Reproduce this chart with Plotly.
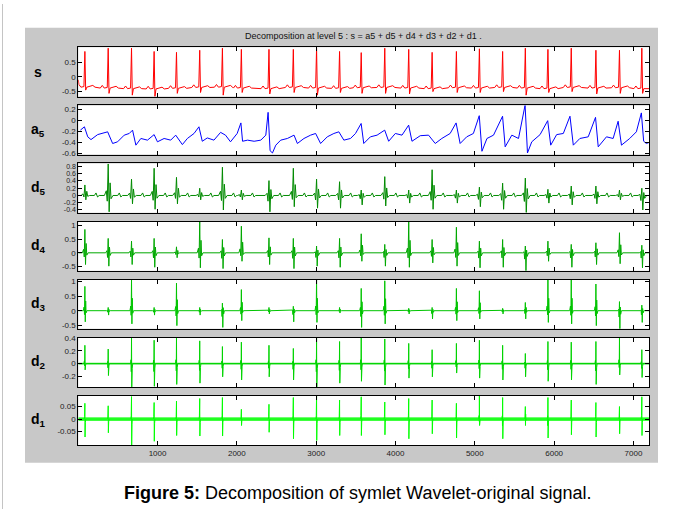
import plotly.graph_objects as go

# ---------------- data ----------------
N_SAMPLES = 7200
beats = [84, 378, 672, 957, 1239, 1532, 1818, 2057, 2405, 2712, 3005, 3295, 3568,
         3865, 4167, 4462, 4768, 5058, 5351, 5637, 5922, 6216, 6527, 6824, 7106]

s_start = -0.10
s_peak = [0.86, 0.97, 0.97, 0.86, 0.83, 0.90, 0.97, 0.93, 0.93, 0.93, 0.97, 0.86, 0.82,
          0.97, 0.93, 0.83, 0.86, 0.95, 0.86, 0.97, 0.93, 0.97, 0.90, 0.90, 0.97]
s_trough = [-0.45, -0.56, -0.62, -0.67, -0.56, -0.53, -0.62, -0.53, -0.58, -0.53, -0.62, -0.53, -0.56,
            -0.56, -0.58, -0.50, -0.53, -0.53, -0.50, -0.62, -0.53, -0.50, -0.58, -0.56, -0.56]
s_base = [-0.35, -0.38, -0.40, -0.41, -0.39, -0.36, -0.35, -0.38, -0.40, -0.36, -0.38, -0.39, -0.37,
          -0.36, -0.38, -0.40, -0.37, -0.38, -0.36, -0.38, -0.40, -0.36, -0.38, -0.37, -0.40]
s_pwave = 0.09
s_twave = 0.06

a5_t = [27, 78, 120, 161, 245, 371, 434, 496, 580, 643, 685, 727, 790, 873, 957, 999, 1083, 1166,
        1229, 1313, 1376, 1460, 1522, 1564, 1627, 1711, 1795, 1857, 1920, 2004, 2051, 2072, 2135,
        2218, 2302, 2365, 2394, 2419, 2449, 2491, 2553, 2637, 2721, 2763, 2846, 2930, 2993, 3056,
        3140, 3223, 3286, 3349, 3433, 3496, 3567, 3600, 3684, 3768, 3864, 3914, 3998, 4082, 4166,
        4208, 4312, 4417, 4501, 4584, 4689, 4764, 4815, 4898, 4982, 5056, 5090, 5153, 5236, 5350,
        5383, 5467, 5551, 5634, 5664, 5718, 5823, 5919, 5957, 6032, 6116, 6200, 6242, 6325, 6430,
        6522, 6556, 6660, 6744, 6807, 6849, 6953, 7037, 7100, 7129, 7163, 7200]
a5_v = [-0.18, -0.12, -0.30, -0.35, -0.26, -0.21, -0.42, -0.39, -0.27, -0.24, -0.18, -0.45, -0.33,
        -0.36, -0.26, -0.39, -0.33, -0.36, -0.27, -0.44, -0.33, -0.24, -0.12, -0.38, -0.32, -0.36,
        -0.22, -0.27, -0.39, -0.24, -0.05, -0.38, -0.36, -0.38, -0.36, -0.27, 0.14, -0.55, -0.59,
        -0.45, -0.36, -0.33, -0.27, -0.42, -0.33, -0.27, -0.24, -0.42, -0.30, -0.24, -0.21, -0.36,
        -0.33, -0.24, -0.06, -0.42, -0.30, -0.27, -0.18, -0.38, -0.24, -0.27, -0.09, -0.38, -0.28,
        -0.27, -0.42, -0.33, -0.24, -0.05, -0.42, -0.30, -0.24, 0.08, -0.56, -0.33, -0.27, 0.07,
        -0.48, -0.27, -0.33, 0.27, -0.59, -0.39, -0.26, -0.01, -0.45, -0.26, -0.24, 0.07, -0.45,
        -0.33, -0.30, 0.05, -0.48, -0.30, -0.33, -0.02, -0.45, -0.33, -0.21, 0.13, -0.38, -0.42,
        -0.40]

d5_max = [0.29, 0.87, 0.45, 0.75, 0.50, 0.20, 0.78, 0.15, 0.41, 0.75, 0.45, 0.38, 0.15,
          0.52, 0.15, 0.71, 0.15, 0.23, 0.34, 0.48, 0.17, 0.26, 0.26, 0.15, 0.20]
d5_min = [-0.12, -0.45, -0.23, -0.38, -0.23, -0.12, -0.40, -0.12, -0.45, -0.31, -0.35, -0.35, -0.26,
          -0.29, -0.21, -0.38, -0.21, -0.31, -0.38, -0.47, -0.21, -0.26, -0.23, -0.12, -0.40]
d5_twave = 0.07

d4_max = [0.86, 0.53, 0.43, 0.53, 0.22, 1.15, 0.49, 0.98, 0.55, 0.53, 0.25, 0.53, 0.70,
          0.31, 1.15, 0.49, 0.94, 0.43, 0.49, 0.25, 0.43, 0.31, 0.37, 0.74, 0.28]
d4_min = [-0.43, -0.49, -0.43, -0.53, -0.18, -0.55, -0.58, -0.31, -0.43, -0.58, -0.49, -0.53, -0.31,
          -0.49, -0.53, -0.37, -0.49, -0.55, -0.53, -0.66, -0.31, -0.53, -0.43, -0.40, -0.55]

d3_max = [0.83, 0.11, 1.06, 0.11, 0.94, 0.11, 0.26, 0.72, 0.11, 0.15, 1.06, 0.11, 0.76,
          1.02, 0.08, 0.11, 0.76, 0.68, 0.08, 0.28, 1.06, 1.06, 0.91, 0.31, 0.19]
d3_min = [-0.38, -0.15, -0.45, -0.15, -0.51, -0.15, -0.57, -0.34, -0.11, -0.38, -0.40, -0.08, -0.57,
          -0.45, -0.11, -0.28, -0.34, -0.28, -0.11, -0.28, -0.40, -0.45, -0.51, -0.62, -0.40]

d2_max = [0.29, 0.23, 0.41, 0.37, 0.41, 0.36, 0.27, 0.34, 0.29, 0.24, 0.41, 0.35, 0.41,
          0.39, 0.32, 0.22, 0.32, 0.37, 0.29, 0.16, 0.35, 0.34, 0.35, 0.41, 0.22]
d2_min = [-0.10, -0.19, -0.37, -0.36, -0.33, -0.31, -0.21, -0.26, -0.21, -0.26, -0.37, -0.31, -0.28,
          -0.34, -0.23, -0.21, -0.15, -0.23, -0.26, -0.21, -0.28, -0.26, -0.33, -0.18, -0.22]

d1_max = [0.063, 0.053, 0.090, 0.066, 0.072, 0.082, 0.086, 0.039, 0.059, 0.086, 0.093, 0.076, 0.089,
          0.068, 0.082, 0.076, 0.063, 0.093, 0.086, 0.050, 0.086, 0.076, 0.066, 0.050, 0.089]
d1_min = [-0.072, -0.055, -0.104, -0.089, -0.066, -0.068, -0.068, -0.026, -0.053, -0.079, -0.086, -0.066, -0.066,
          -0.063, -0.079, -0.059, -0.076, -0.026, -0.079, -0.026, -0.076, -0.063, -0.072, -0.059, -0.066]

noise_amp = {"d4": 0.01, "d3": 0.012, "d2": 0.015, "d1": 0.0075}

y_ranges = {"s": [-0.667, 1.0], "a5": [-0.62, 0.265], "d5": [-0.475, 0.883],
            "d4": [-0.66, 1.15], "d3": [-0.62, 1.06], "d2": [-0.37, 0.41], "d1": [-0.104, 0.093]}
y_ticks = {"s": [-0.5, 0, 0.5], "a5": [-0.6, -0.4, -0.2, 0, 0.2],
           "d5": [-0.4, -0.2, 0, 0.2, 0.4, 0.6, 0.8], "d4": [-0.5, 0, 0.5, 1],
           "d3": [-0.5, 0, 0.5, 1], "d2": [-0.2, 0, 0.2, 0.4], "d1": [-0.05, 0, 0.05]}
x_ticks = [1000, 2000, 3000, 4000, 5000, 6000, 7000]

panel_names = ["s", "a5", "d5", "d4", "d3", "d2", "d1"]
panel_labels = ["<b>s</b>", "<b>a<sub>5</sub></b>", "<b>d<sub>5</sub></b>", "<b>d<sub>4</sub></b>",
                "<b>d<sub>3</sub></b>", "<b>d<sub>2</sub></b>", "<b>d<sub>1</sub></b>"]
colors = {"s": "#ff0000", "a5": "#0000ff", "d5": "#008a00", "d4": "#00a800",
          "d3": "#00c400", "d2": "#00d400", "d1": "#00ff00"}

title_text = "Decomposition at level 5 : s = a5 + d5 + d4 + d3 + d2 + d1 ."
caption = "<b>Figure 5:</b> Decomposition of symlet Wavelet-original signal."

# ---------------- build signal shapes from the read values ----------------
def sort_pts(pts):
    pts = [p for p in pts if 1 <= p[0] <= N_SAMPLES]
    pts.sort(key=lambda p: p[0])
    return [p[0] for p in pts], [p[1] for p in pts]

def build_s():
    pts = [(1, s_start), (40, s_base[0])]
    for b, pk, tr, bs in zip(beats, s_peak, s_trough, s_base):
        pts += [(b - 100, bs), (b - 75, bs + s_pwave), (b - 50, bs), (b - 12, bs + 0.02),
                (b, pk), (b + 10, tr), (b + 24, bs), (b + 100, bs + s_twave), (b + 128, bs)]
    pts.append((N_SAMPLES, s_base[-1]))
    return sort_pts(pts)

def build_detail(mx, mn, w, twave=0.0):
    pts = [(1, 0.0)]
    for b, M, m in zip(beats, mx, mn):
        pts += [(b - 4 * w, 0.0), (b - 2 * w, 0.15 * M), (b - w, 0.35 * m), (b, M),
                (b + w, m), (b + 2 * w, 0.4 * M), (b + 3 * w, 0.2 * m), (b + 5 * w, 0.0)]
        if twave:
            pts += [(b + 120, 0.0), (b + 140, twave), (b + 160, -0.6 * twave), (b + 180, 0.0)]
    pts.append((N_SAMPLES, 0.0))
    return sort_pts(pts)

series = {
    "s": build_s(),
    "a5": (a5_t, a5_v),
    "d5": build_detail(d5_max, d5_min, 12, d5_twave),
    "d4": build_detail(d4_max, d4_min, 8),
    "d3": build_detail(d3_max, d3_min, 5),
    "d2": build_detail(d2_max, d2_min, 3),
    "d1": build_detail(d1_max, d1_min, 2),
}

# ---------------- layout geometry (pixels) ----------------
W, H = 678, 513
X0, X1 = 78.3, 649.3
tops = [44, 103, 162, 221, 280, 339, 398]
PH = 50

fig = go.Figure()
shapes = []
shapes.append(dict(type="line", xref="paper", yref="paper", x0=2.5 / W, x1=2.5 / W, y0=0, y1=1,
                   line=dict(color="#c4c4c4", width=1), layer="below"))
shapes.append(dict(type="rect", xref="paper", yref="paper", x0=25 / W, x1=658 / W,
                   y0=1 - 466 / H, y1=1 - 24 / H, fillcolor="#c8c8c8",
                   line=dict(width=0), layer="below"))

annotations = []
tick_font = dict(family="Liberation Sans, Arial, sans-serif", size=8, color="#222222")

for i, name in enumerate(panel_names):
    k = i + 1
    sfx = "" if k == 1 else str(k)
    t = tops[i]
    ydom = [1 - (t + PH) / H, 1 - t / H]
    xdom = [X0 / W, X1 / W]
    shapes.append(dict(type="rect", xref="paper", yref="paper", x0=xdom[0], x1=xdom[1],
                       y0=ydom[0], y1=ydom[1], fillcolor="white", line=dict(width=0), layer="below"))
    col = colors[name]
    if name in noise_amp:
        a = noise_amp[name]
        fig.add_trace(go.Scatter(x=[1, N_SAMPLES, N_SAMPLES, 1, 1], y=[a, a, -a, -a, a],
                                 mode="lines", fill="toself", fillcolor=col, opacity=0.75,
                                 line=dict(width=0, color=col), hoverinfo="skip",
                                 xaxis="x" + sfx, yaxis="y" + sfx, showlegend=False))
    xs, ys = series[name]
    fig.add_trace(go.Scatter(x=xs, y=ys, mode="lines", line=dict(color=col, width=1),
                             xaxis="x" + sfx, yaxis="y" + sfx, showlegend=False))
    fig.layout["xaxis" + sfx] = dict(
        domain=xdom, anchor="y" + sfx, range=[1, N_SAMPLES], tickvals=x_ticks,
        ticktext=[str(v) for v in x_ticks], showticklabels=(k == 7), ticks="inside",
        ticklen=4, tickcolor="black", showline=True, linecolor="black", linewidth=1,
        mirror="ticks", showgrid=False, zeroline=False, tickfont=tick_font)
    yt = y_ticks[name]
    yfont = dict(tick_font, size=7) if name == "d5" else tick_font
    fig.layout["yaxis" + sfx] = dict(
        domain=ydom, anchor="x" + sfx, range=y_ranges[name], tickvals=yt,
        ticktext=[("%g" % v) for v in yt], ticks="inside", ticklen=4,
        tickcolor="black", showline=True, linecolor="black", linewidth=1, mirror="ticks",
        showgrid=False, zeroline=False, tickfont=yfont)
    annotations.append(dict(text=panel_labels[i], xref="paper", yref="paper", x=38 / W,
                            y=1 - (t + PH / 2) / H, showarrow=False, xanchor="center",
                            yanchor="middle",
                            font=dict(family="Liberation Sans, Arial, sans-serif", size=14,
                                      color="black")))

annotations.append(dict(text=title_text, xref="paper", yref="paper", x=363 / W, y=1 - 33 / H,
                        showarrow=False, xanchor="center", yanchor="middle",
                        font=dict(family="Liberation Sans, Arial, sans-serif", size=9,
                                  color="#111111")))
annotations.append(dict(text=caption, xref="paper", yref="paper", x=358 / W, y=1 - 497 / H,
                        showarrow=False, xanchor="center", yanchor="middle",
                        font=dict(family="Liberation Sans, Arial, sans-serif", size=18,
                                  color="black")))

fig.update_layout(width=W, height=H, margin=dict(l=0, r=0, t=0, b=0),
                  paper_bgcolor="white", plot_bgcolor="white",
                  shapes=shapes, annotations=annotations, showlegend=False)

fig.write_html("out.html")
